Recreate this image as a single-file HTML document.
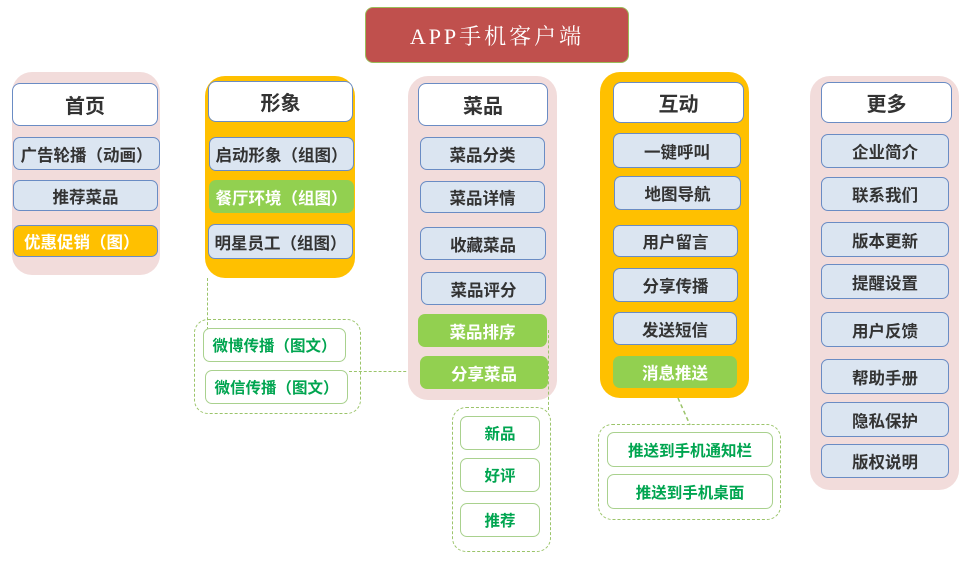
<!DOCTYPE html>
<html><head><meta charset="utf-8"><style>
body{margin:0;width:972px;height:561px;background:#fff;position:relative;overflow:hidden;font-family:"Liberation Sans","Noto Sans CJK SC",sans-serif;}
div{position:absolute;box-sizing:border-box;}
.bgp{background:#f2dcdb;border-radius:20px;}
.bgo{background:#ffc000;border-radius:20px;}
.h{background:#fff;border:1.5px solid #6a8cc4;border-radius:8px;display:flex;align-items:center;justify-content:center;font-size:20px;font-weight:bold;color:#333;}
.i{background:#dbe5f1;border:1.5px solid #6a8cc4;border-radius:7px;display:flex;align-items:center;justify-content:center;font-size:16.5px;font-weight:bold;color:#333;white-space:nowrap;}
.g{background:#92d050;border:none;color:#fff;}
.o{background:#ffc000;color:#fff;justify-content:flex-start;padding-left:10px;}
.d{border:1.5px dashed #9bc46a;border-radius:14px;}
.s{background:#fff;border:1.5px solid #a9d18e;border-radius:7px;display:flex;align-items:center;justify-content:center;font-size:15.5px;font-weight:bold;color:#00a550;white-space:nowrap;}
</style></head><body>
<div style="left:365px;top:7px;width:264px;height:56px;background:#c0504d;border:1.5px solid #9bbb59;border-radius:8px;display:flex;align-items:center;justify-content:center;color:#fff;font-size:22px;font-family:'Liberation Serif','Noto Serif CJK SC',serif;letter-spacing:3px;">APP手机客户端</div>

<div class="bgp" style="left:12px;top:72px;width:148px;height:203px;"></div>
<div class="h" style="left:12px;top:83px;width:146px;height:43px;">首页</div>
<div class="i" style="left:13px;top:137px;width:147px;height:33px;">广告轮播（动画）</div>
<div class="i" style="left:13px;top:180px;width:145px;height:31px;">推荐菜品</div>
<div class="i o" style="left:13px;top:225px;width:145px;height:32px;">优惠促销（图）</div>

<div class="bgo" style="left:205px;top:76px;width:150px;height:202px;"></div>
<div class="h" style="left:208px;top:81px;width:145px;height:41px;">形象</div>
<div class="i" style="left:209px;top:137px;width:145px;height:34px;">启动形象（组图）</div>
<div class="i g" style="left:209px;top:180px;width:145px;height:33px;">餐厅环境（组图）</div>
<div class="i" style="left:208px;top:224px;width:145px;height:35px;">明星员工（组图）</div>

<div class="d" style="left:194px;top:319px;width:167px;height:95px;"></div>
<div style="left:207px;top:278px;width:0;height:52px;border-left:1.5px dashed #9bc46a;"></div>
<div style="left:349px;top:371px;width:72px;height:0;border-top:1.5px dashed #9bc46a;"></div>
<div class="s" style="left:203px;top:328px;width:143px;height:34px;">微博传播（图文）</div>
<div class="s" style="left:205px;top:370px;width:143px;height:34px;">微信传播（图文）</div>

<div class="bgp" style="left:408px;top:76px;width:149px;height:324px;"></div>
<div class="h" style="left:418px;top:83px;width:130px;height:43px;">菜品</div>
<div class="i" style="left:420px;top:137px;width:125px;height:33px;">菜品分类</div>
<div class="i" style="left:420px;top:181px;width:125px;height:32px;">菜品详情</div>
<div class="i" style="left:420px;top:227px;width:126px;height:33px;">收藏菜品</div>
<div class="i" style="left:421px;top:272px;width:125px;height:33px;">菜品评分</div>
<div class="i g" style="left:418px;top:314px;width:129px;height:33px;">菜品排序</div>
<div class="i g" style="left:420px;top:356px;width:128px;height:33px;">分享菜品</div>
<div style="left:548px;top:330px;width:0;height:80px;border-left:1.5px dashed #9bc46a;"></div>

<div class="d" style="left:452px;top:407px;width:99px;height:145px;"></div>
<div class="s" style="left:460px;top:416px;width:80px;height:34px;">新品</div>
<div class="s" style="left:460px;top:458px;width:80px;height:34px;">好评</div>
<div class="s" style="left:460px;top:503px;width:80px;height:34px;">推荐</div>

<div class="bgo" style="left:600px;top:72px;width:149px;height:326px;"></div>
<div class="h" style="left:613px;top:82px;width:131px;height:41px;">互动</div>
<div class="i" style="left:613px;top:133px;width:128px;height:35px;">一键呼叫</div>
<div class="i" style="left:614px;top:176px;width:127px;height:34px;">地图导航</div>
<div class="i" style="left:613px;top:225px;width:125px;height:32px;">用户留言</div>
<div class="i" style="left:613px;top:268px;width:125px;height:34px;">分享传播</div>
<div class="i" style="left:613px;top:312px;width:124px;height:33px;">发送短信</div>
<div class="i g" style="left:613px;top:356px;width:124px;height:32px;">消息推送</div>

<svg style="position:absolute;left:0;top:0" width="972" height="561"><line x1="678" y1="398" x2="690" y2="425" stroke="#9bc46a" stroke-width="1.5" stroke-dasharray="4,3"/></svg>
<div class="d" style="left:598px;top:424px;width:183px;height:96px;"></div>
<div class="s" style="left:607px;top:432px;width:166px;height:35px;">推送到手机通知栏</div>
<div class="s" style="left:607px;top:474px;width:166px;height:35px;">推送到手机桌面</div>

<div class="bgp" style="left:810px;top:76px;width:149px;height:414px;"></div>
<div class="h" style="left:821px;top:82px;width:131px;height:41px;">更多</div>
<div class="i" style="left:821px;top:134px;width:128px;height:34px;">企业简介</div>
<div class="i" style="left:821px;top:177px;width:128px;height:34px;">联系我们</div>
<div class="i" style="left:821px;top:222px;width:128px;height:35px;">版本更新</div>
<div class="i" style="left:821px;top:264px;width:128px;height:35px;">提醒设置</div>
<div class="i" style="left:821px;top:312px;width:128px;height:35px;">用户反馈</div>
<div class="i" style="left:821px;top:359px;width:128px;height:35px;">帮助手册</div>
<div class="i" style="left:821px;top:402px;width:128px;height:35px;">隐私保护</div>
<div class="i" style="left:821px;top:444px;width:128px;height:34px;">版权说明</div>
</body></html>
